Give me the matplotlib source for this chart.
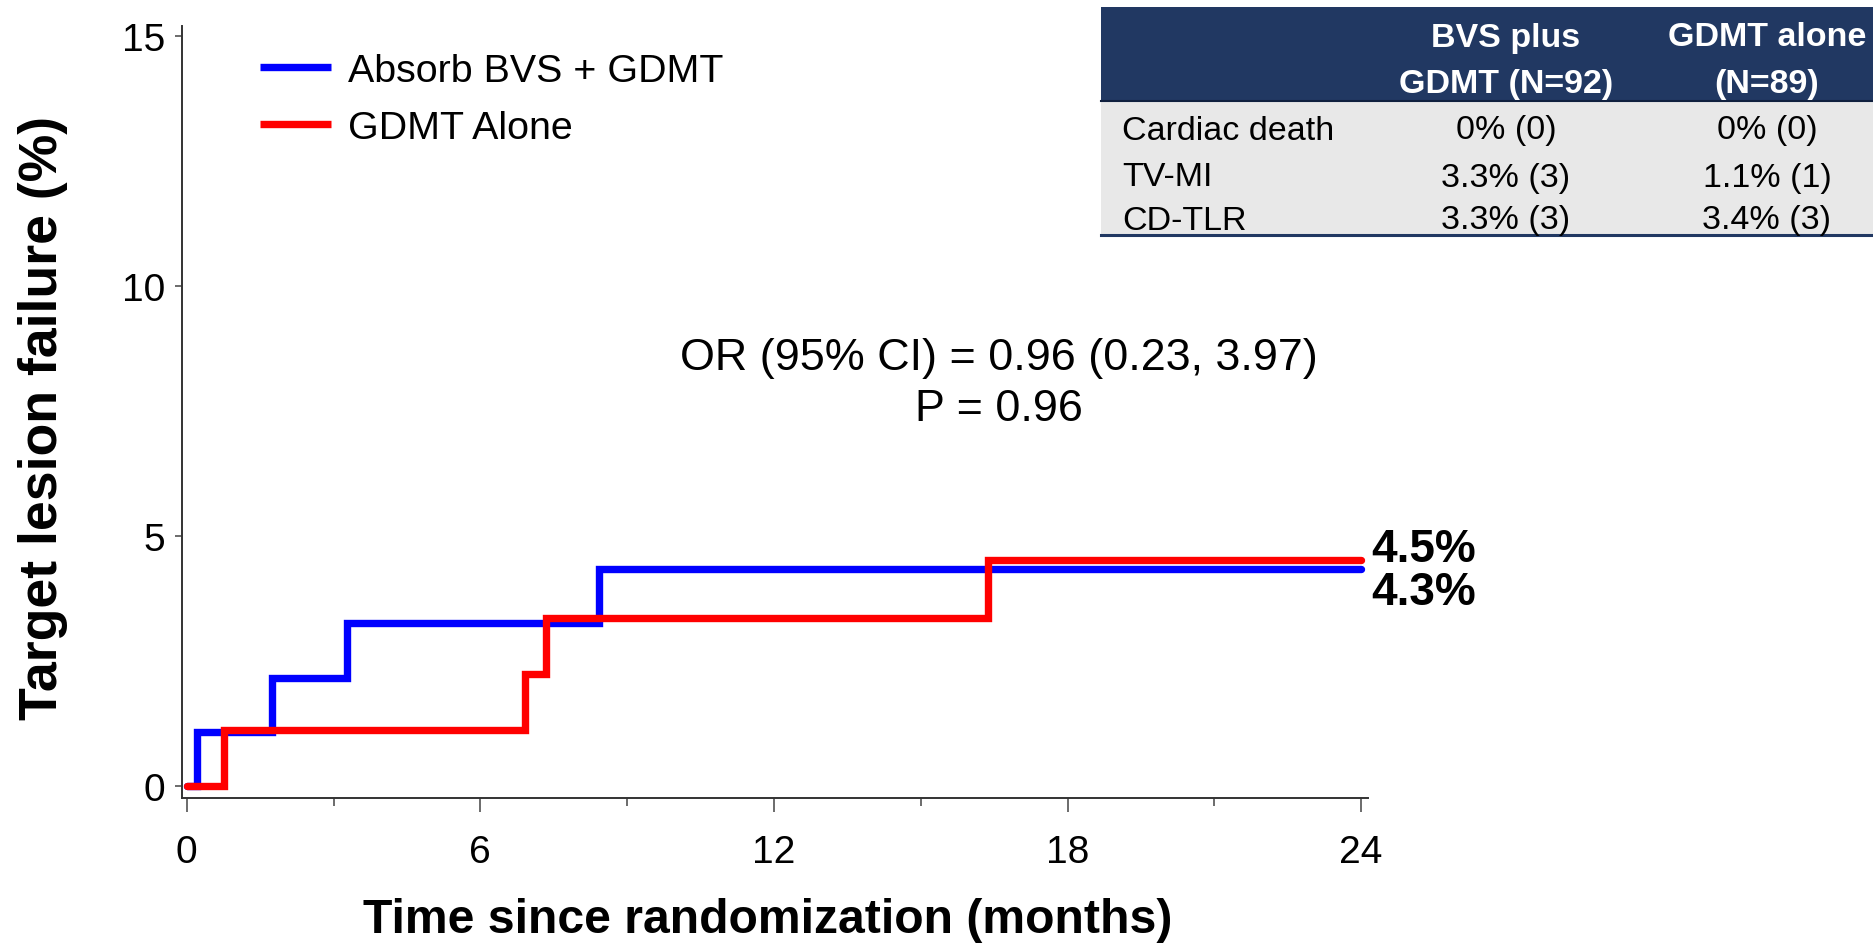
import matplotlib
matplotlib.use("Agg")
import matplotlib.pyplot as plt
from matplotlib.patches import Rectangle

plt.rcParams["font.family"] = ["Liberation Sans", "DejaVu Sans"]

# step curves (months, % with TLF)
bvs_time = [0, 0.22, 1.75, 3.27, 8.42, 24]
bvs_rate = [0, 1.09, 2.17, 3.26, 4.35, 4.35]
gdmt_time = [0, 0.76, 6.91, 7.35, 16.37, 24]
gdmt_rate = [0, 1.12, 2.25, 3.37, 4.52, 4.52]

series_names = ["Absorb BVS + GDMT", "GDMT Alone"]
end_labels = ["4.3%", "4.5%"]
x_ticks = [0, 6, 12, 18, 24]
x_minor = [3, 9, 15, 21]
y_ticks = [0, 5, 10, 15]

stat_lines = ["OR (95% CI) = 0.96 (0.23, 3.97)", "P = 0.96"]

table_cols = ["BVS plus\nGDMT (N=92)", "GDMT alone\n(N=89)"]
row_labels = ["Cardiac death", "TV-MI", "CD-TLR"]
bvs_vals = ["0% (0)", "3.3% (3)", "3.3% (3)"]
gdmt_vals = ["0% (0)", "1.1% (1)", "3.4% (3)"]

W, H = 1873, 945
fig = plt.figure(figsize=(W / 100, H / 100), dpi=100)


def fx(px):
    return px / W


def fy(py):
    return 1 - py / H


ax = fig.add_axes([fx(182), fy(799), (1368 - 182) / W, (799 - 26.7) / H])
ax.set_xlim(-0.096, 24.14)
ax.set_ylim(-0.234, 15.21)

ax.step(bvs_time, bvs_rate, where="post", color="#0000FF", lw=5.3,
        solid_capstyle="round", solid_joinstyle="miter", clip_on=False,
        label=series_names[0], zorder=3)
ax.step(gdmt_time, gdmt_rate, where="post", color="#FF0000", lw=5.3,
        solid_capstyle="round", solid_joinstyle="miter", clip_on=False,
        label=series_names[1], zorder=4)

for s in ["top", "right"]:
    ax.spines[s].set_visible(False)
for s in ["left", "bottom"]:
    ax.spines[s].set_linewidth(1.4)
    ax.spines[s].set_color("#333333")

ax.set_xticks(x_ticks)
ax.set_xticks(x_minor, minor=True)
ax.set_yticks(y_ticks)
ax.tick_params(axis="x", which="major", length=10, width=1.1, color="#444444",
               labelsize=28, pad=16)
ax.tick_params(axis="x", which="minor", length=6, width=1.1, color="#444444")
ax.tick_params(axis="y", which="major", length=5, width=1.1, color="#444444",
               labelsize=28, pad=7)

# end-of-curve percentages
ax.text(24.2, 4.74, end_labels[1], fontsize=33, fontweight="bold",
        va="center", ha="left", clip_on=False)
ax.text(24.2, 3.88, end_labels[0], fontsize=33, fontweight="bold",
        va="center", ha="left", clip_on=False)

ax.text(16.6, 8.58, stat_lines[0], fontsize=32.3, ha="center", va="center")
ax.text(16.6, 7.56, stat_lines[1], fontsize=32.3, ha="center", va="center")

leg = ax.legend(loc="upper left", bbox_to_anchor=(fx(260), fy(54)),
                bbox_transform=fig.transFigure, frameon=False, fontsize=28.4,
                borderpad=0, borderaxespad=0, handlelength=1.8,
                handletextpad=0.44, labelspacing=0.54)
for h in leg.get_lines():
    h.set_solid_capstyle("butt")

fig.text(fx(43), fy(418), "Target lesion failure (%)", rotation=90,
         fontsize=38.6, fontweight="bold", ha="center", va="center")
fig.text(fx(768), fy(921), "Time since randomization (months)",
         fontsize=34.7, fontweight="bold", ha="center", va="center")

# summary table, top right
navy = "#213862"
fig.patches.append(Rectangle((fx(1101), fy(102)), fx(1873) - fx(1101),
                             fy(8) - fy(102), transform=fig.transFigure,
                             facecolor=navy, edgecolor="none"))
fig.patches.append(Rectangle((fx(1101), fy(236)), fx(1873) - fx(1101),
                             fy(102) - fy(236), transform=fig.transFigure,
                             facecolor="#E8E8E8", edgecolor="none"))
fig.add_artist(plt.Line2D([fx(1101), 1], [fy(236), fy(236)], color=navy,
                          lw=2.2, transform=fig.transFigure))
fig.add_artist(plt.Line2D([fx(1101), 1], [fy(102), fy(102)], color="#10203F",
                          lw=1.5, transform=fig.transFigure))

col_x = [1506, 1767]
head_y = [38, 84]
row_y = [131, 178, 221]
for cx, head in zip(col_x, table_cols):
    for hy, part in zip(head_y, head.split("\n")):
        fig.text(fx(cx), fy(hy), part, color="white", fontsize=24.5,
                 fontweight="bold", ha="center", va="center")
for ry, lab, v1, v2 in zip(row_y, row_labels, bvs_vals, gdmt_vals):
    fig.text(fx(1122), fy(ry), lab, fontsize=24.5, ha="left", va="center")
    fig.text(fx(col_x[0]), fy(ry), v1, fontsize=24.5, ha="center", va="center")
    fig.text(fx(col_x[1]), fy(ry), v2, fontsize=24.5, ha="center", va="center")

fig.savefig("out.png", dpi=100)
